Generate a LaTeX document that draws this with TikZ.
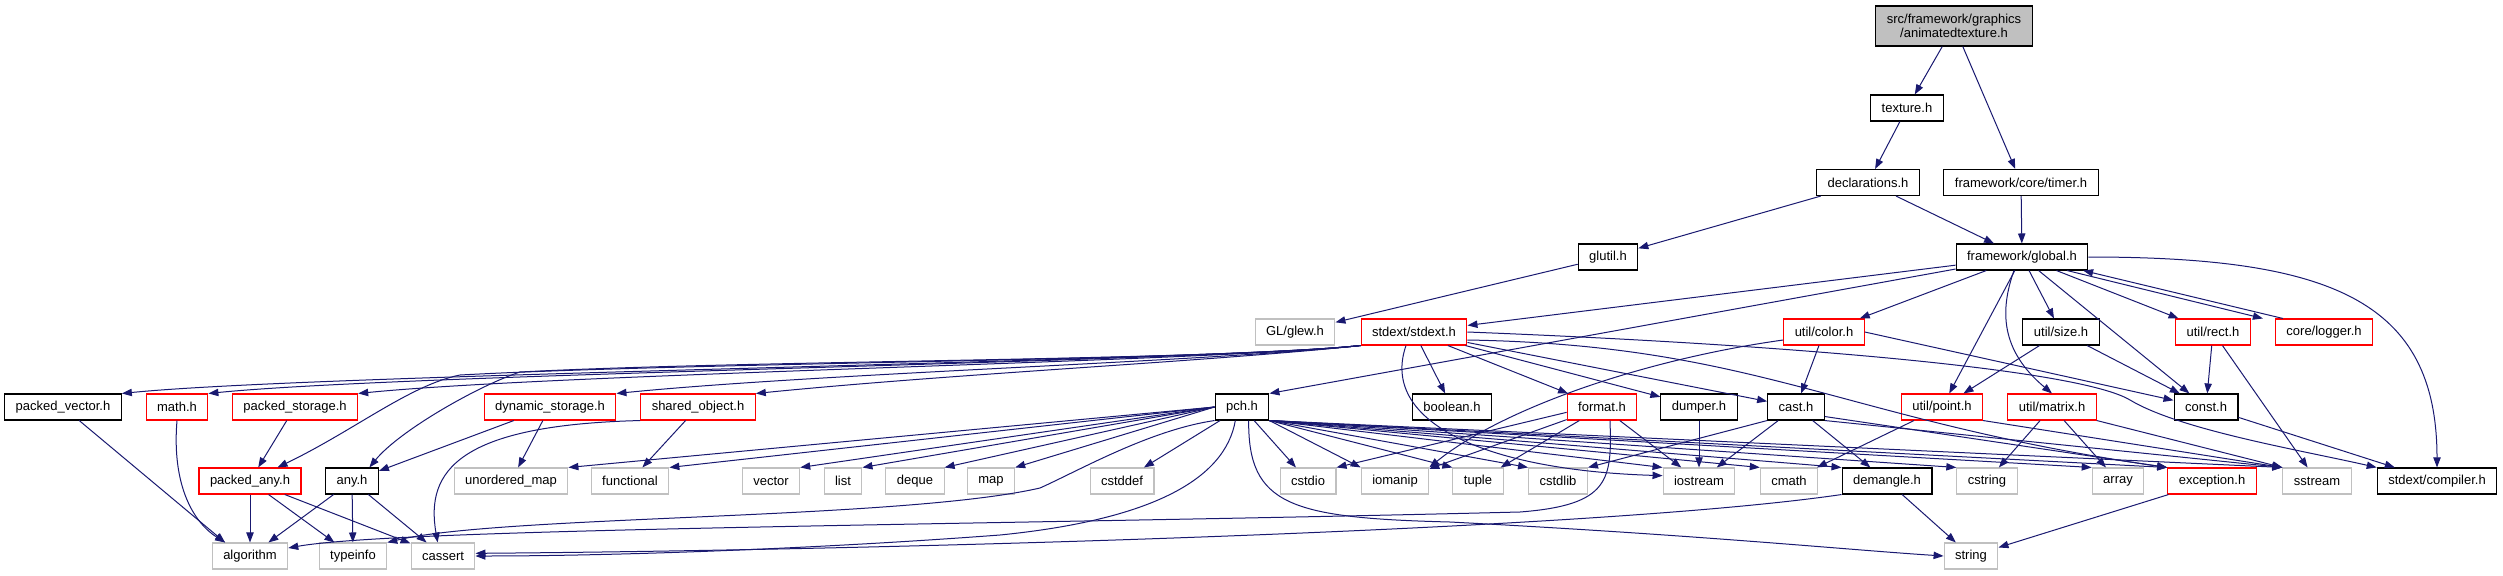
\documentclass[tikz,border=0pt]{standalone}
\usepackage{fontspec}
\setmainfont{Liberation Sans}
\usetikzlibrary{arrows.meta}
\definecolor{midnight}{RGB}{25,25,112}
\definecolor{sysgray}{RGB}{192,192,192}
\tikzset{>={Triangle[length=7.5pt,width=5.5pt]}}
\tikzset{
  hdr/.style={draw=black, fill=white, line width=0.8pt, minimum height=19.5pt,
    inner xsep=8.25pt, inner ysep=0pt, font=\fontsize{9.75pt}{11pt}\selectfont},
  hdrred/.style={hdr, draw=red},
  hdrsys/.style={hdr, draw=sysgray},
  hdrroot/.style={hdr, fill=sysgray, minimum height=30pt, align=center},
  incl/.style={->, draw=midnight, line width=0.75pt}
}

\begin{document}
\begin{tikzpicture}[x=0.75pt, y=-0.75pt]
	\useasboundingbox (0,0) rectangle (2503,575);
	% upper part
	\node[hdrroot] (root) at (1954,26) {src/framework/graphics\\/animatedtexture.h};
	\node[hdr] (texture) at (1907,108) {texture.h};
	\node[hdr] (declarations) at (1868,182.5) {declarations.h};
	\node[hdr] (timer) at (2021,182.5) {framework/core/timer.h};
	\node[hdr] (glutil) at (1608,257) {glutil.h};
	\node[hdr] (global) at (2022,257) {framework/global.h};
	% row under global.h
	\node[hdrsys] (glew) at (1295,332) {GL/glew.h};
	\node[hdrred] (stdext) at (1414,332) {stdext/stdext.h};
	\node[hdrred] (color) at (1824,332) {util/color.h};
	\node[hdr] (size) at (2061,332) {util/size.h};
	\node[hdrred] (rect) at (2213,332) {util/rect.h};
	\node[hdrred] (logger) at (2324,332) {core/logger.h};
	% middle row
	\node[hdr] (packedvector) at (63,407) {packed\_vector.h};
	\node[hdrred] (math) at (177,407) {math.h};
	\node[hdrred] (packedstorage) at (295,407) {packed\_storage.h};
	\node[hdrred] (dynamicstorage) at (550,407) {dynamic\_storage.h};
	\node[hdrred] (sharedobject) at (698,407) {shared\_object.h};
	\node[hdr] (pch) at (1242,407) {pch.h};
	\node[hdr] (boolean) at (1452,407) {boolean.h};
	\node[hdrred] (format) at (1602,407) {format.h};
	\node[hdr] (dumper) at (1699,407) {dumper.h};
	\node[hdr] (cast) at (1796,407) {cast.h};
	\node[hdrred] (point) at (1942,407) {util/point.h};
	\node[hdrred] (matrix) at (2052,407) {util/matrix.h};
	\node[hdr] (const) at (2206,407) {const.h};
	% lower row
	\node[hdrred] (packedany) at (250,481) {packed\_any.h};
	\node[hdr] (any) at (352,481) {any.h};
	\node[hdrsys] (unorderedmap) at (511,481) {unordered\_map};
	\node[hdrsys] (functional) at (630,481) {functional};
	\node[hdrsys] (vector) at (771,481) {vector};
	\node[hdrsys] (list) at (843,481) {list};
	\node[hdrsys] (deque) at (915,481) {deque};
	\node[hdrsys] (map) at (991,481) {map};
	\node[hdrsys] (cstddef) at (1122,481) {cstddef};
	\node[hdrsys] (cstdio) at (1308,481) {cstdio};
	\node[hdrsys] (iomanip) at (1395,481) {iomanip};
	\node[hdrsys] (tuple) at (1478,481) {tuple};
	\node[hdrsys] (cstdlib) at (1558,481) {cstdlib};
	\node[hdrsys] (iostream) at (1699,481) {iostream};
	\node[hdrsys] (cmath) at (1789,481) {cmath};
	\node[hdr] (demangle) at (1887,481) {demangle.h};
	\node[hdrsys] (cstring) at (1987,481) {cstring};
	\node[hdrsys] (array) at (2118,481) {array};
	\node[hdrred] (exception) at (2212,481) {exception.h};
	\node[hdrsys] (sstream) at (2317,481) {sstream};
	\node[hdr] (compiler) at (2437,481) {stdext/compiler.h};
	% bottom row
	\node[hdrsys] (algorithm) at (250,556) {algorithm};
	\node[hdrsys] (typeinfo) at (353,556) {typeinfo};
	\node[hdrsys] (cassert) at (443,556) {cassert};
	\node[hdrsys] (string) at (1971,556) {string};

	% includes of the upper part
	\draw[incl] (root) -- (texture);
	\draw[incl] (root) -- (timer);
	\draw[incl] (texture) -- (declarations);
	\draw[incl] (declarations) -- (glutil);
	\draw[incl] (declarations) -- (global);
	\draw[incl] (timer) -- (global);
	\draw[incl] (glutil) -- (glew);

	% framework/global.h
	\foreach \tgt in {stdext,color,size,point,const,rect}
	\draw[incl] (global) -- (\tgt);
	\draw[incl] (global) -- (pch.north east);
	\draw[incl] ([xshift=-6pt]global.south) .. controls (2000,310) and (2000,350) .. (matrix.north);
	\draw[incl] ([xshift=-16pt]global.south east) -- ([xshift=-9pt]logger.north west);
	\draw[incl] ([xshift=6pt]logger.north west) -- ([xshift=-4pt]global.south east);
	\draw[incl] (global.east) .. controls (2330,257) and (2437,300) .. (compiler.north);

	% stdext/stdext.h
	\foreach \tgt in {packedvector,math,packedstorage,dynamicstorage,sharedobject}
	\draw[incl] (stdext.south west) .. controls +(-150,16) and +(200,-20) .. (\tgt.north east);
	\draw[incl] (stdext.south west) .. controls (1209,361) and (700,362) .. (460,375)
		.. controls (410,385) and (355,430) .. ([xshift=-18pt]packedany.north east);
	\draw[incl] (stdext.south west) .. controls (1209,361) and (750,360) .. (520,372)
		.. controls (480,385) and (400,430) .. ([xshift=13pt]any.north);
	\foreach \tgt in {boolean,format,dumper,cast}
	\draw[incl] (stdext) -- (\tgt);
	\draw[incl] ([xshift=-6pt]stdext.south) .. controls (1380,420) and (1480,470) .. ([yshift=4pt]iostream.west);
	\draw[incl] ([yshift=-6pt]stdext.east) .. controls (1760,345) and (1840,420) .. (exception.north west);
	\draw[incl] (stdext.east) .. controls (1800,345) and (2080,370) .. (2130,400)
		.. controls (2180,430) and (2300,450) .. (compiler.north west);

	% util headers
	\draw[incl] (color) -- (cast);
	\draw[incl] ([yshift=-6pt]color.west) .. controls (1640,360) and (1500,410) .. (iomanip.north east);
	\draw[incl] (color.east) -- ([yshift=5pt]const.west);
	\draw[incl] (size) -- (point);
	\draw[incl] (size) -- (const);
	\draw[incl] (rect) -- (const);
	\draw[incl] (rect) -- (sstream);
	\draw[incl] (point) -- (cmath);
	\draw[incl] (point.south east) -- (sstream.north west);
	\draw[incl] (matrix) -- (cstring);
	\draw[incl] (matrix) -- (array);
	\draw[incl] (matrix.south east) -- (sstream.north west);
	\draw[incl] (const) -- (compiler);

	% cast.h, demangle.h and the others
	\draw[incl] (cast) -- (demangle);
	\draw[incl] (cast) -- (iostream);
	\draw[incl] (cast.south west) -- (cstdlib.north east);
	\draw[incl] ([yshift=3pt]cast.south east) -- (exception.north west);
	\draw[incl] (cast.south east) -- (sstream.north west);
	\draw[incl] (demangle) -- (string);
	\draw[incl] (demangle.south west) .. controls (1600,530) and (900,550) .. ([yshift=2pt]cassert.east);
	\draw[incl] (exception) -- (string);
	\draw[incl] (dumper) -- (iostream);
	\draw[incl] ([yshift=-4pt]format.west) -- (cstdio.north east);
	\foreach \tgt in {iomanip,tuple,iostream}
	\draw[incl] (format) -- (\tgt);
	\draw[incl] ([xshift=6pt]format.south) .. controls (1612,480) and (1610,505) .. (1520,512)
		.. controls (1000,525) and (400,528) .. ([yshift=6pt]algorithm.east);

	% pch.h
	\foreach \tgt in {unorderedmap,functional,vector,list,deque,map}
	\draw[incl] (pch.west) -- (\tgt.north east);
	\draw[incl] (pch) -- (cstddef);
	\draw[incl] (pch) -- (cstdio);
	\foreach \tgt in {iomanip,tuple,cstdlib,iostream,cmath,demangle,cstring,array,exception,sstream}
	\draw[incl] (pch.south east) -- (\tgt.north west);
	\draw[incl] (pch.south west) .. controls (1150,430) and (1080,470) .. (1040,488)
		.. controls (900,520) and (500,515) .. (typeinfo.north east);
	\draw[incl] ([xshift=-5pt]pch.south) .. controls (1225,480) and (1150,520) .. (1000,535)
		.. controls (800,550) and (600,556) .. (cassert.east);
	\draw[incl] ([xshift=5pt]pch.south) .. controls (1248,505) and (1290,518) .. (1450,522)
		.. controls (1700,535) and (1850,550) .. (string.west);

	% left part
	\draw[incl] (dynamicstorage) -- (any);
	\draw[incl] (dynamicstorage) -- (unorderedmap);
	\draw[incl] (sharedobject) -- (functional);
	\draw[incl] (sharedobject.south west) .. controls (460,425) and (425,470) .. ([xshift=-4pt]cassert.north);
	\draw[incl] (packedstorage) -- (packedany);
	\draw[incl] (packedvector) -- ([xshift=10pt]algorithm.north west);
	\draw[incl] (math.south) .. controls (172,480) and (190,520) .. ([xshift=10pt]algorithm.north west);
	\foreach \tgt in {algorithm,typeinfo,cassert}
	\draw[incl] (packedany) -- (\tgt);
	\foreach \tgt in {algorithm,typeinfo,cassert}
	\draw[incl] (any) -- (\tgt);
\end{tikzpicture}
\end{document}
